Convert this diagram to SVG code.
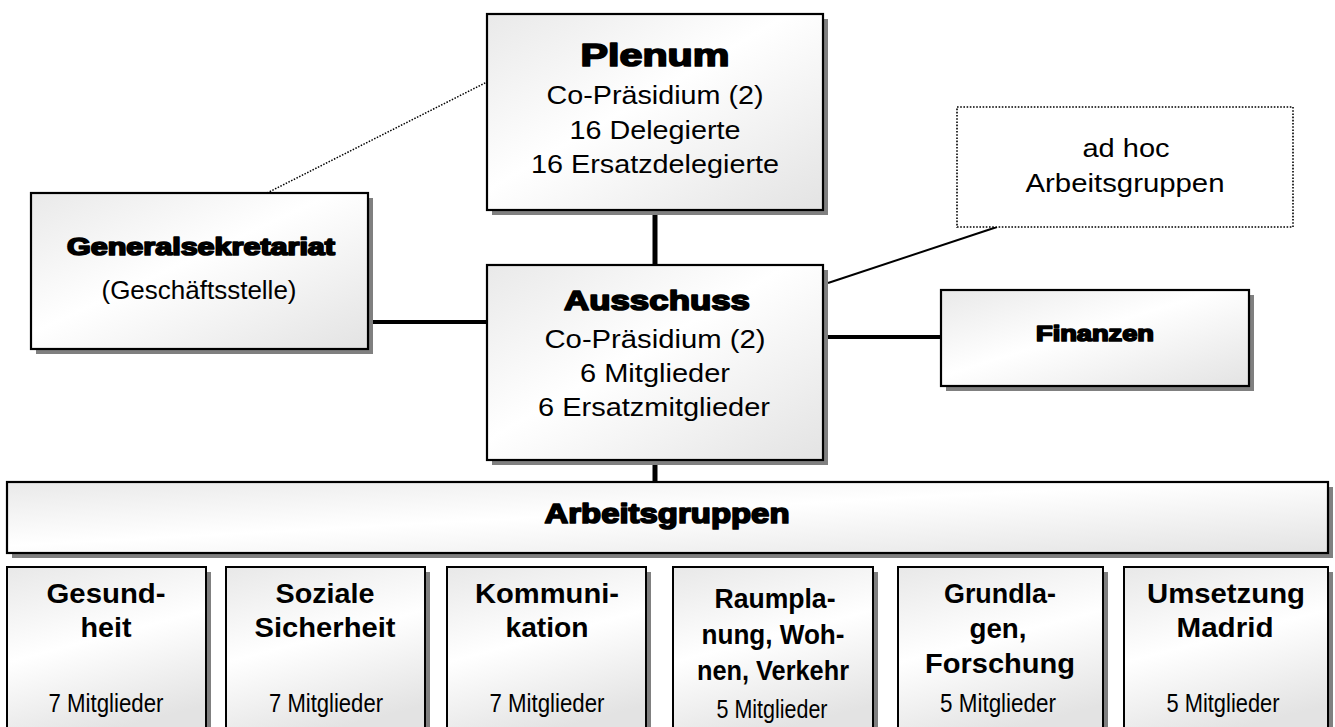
<svg xmlns="http://www.w3.org/2000/svg" width="1335" height="727" viewBox="0 0 1335 727">
<defs>
<linearGradient id="g" x1="0" y1="0" x2="1" y2="1">
<stop offset="0" stop-color="#e9e9e9"/>
<stop offset="0.45" stop-color="#ffffff"/>
<stop offset="1" stop-color="#e3e3e3"/>
</linearGradient>
<linearGradient id="gb" x1="0" y1="0" x2="0.3" y2="1">
<stop offset="0" stop-color="#e8e8e8"/>
<stop offset="0.5" stop-color="#ffffff"/>
<stop offset="1" stop-color="#e3e3e3"/>
</linearGradient>
</defs>
<style>
.sh{fill:#808080;stroke:none}
.bx{fill:url(#g);stroke:#000;stroke-width:2.2}
.bb{fill:url(#gb);stroke:#000;stroke-width:2}
.dot{fill:#fff;stroke:#000;stroke-width:1.6;stroke-dasharray:1.6 1.6}
.con{stroke:#000;fill:none}
text{font-family:"Liberation Sans",Arial,sans-serif;fill:#000;text-anchor:middle}
.hv{font-weight:bold;stroke:#000;stroke-width:1.7;stroke-linejoin:round}
.bd{font-weight:bold}
</style>
<g id="connectors">
<line class="con" x1="655" y1="208" x2="655" y2="266" stroke-width="5"/>
<line class="con" x1="366" y1="322" x2="488" y2="322" stroke-width="4"/>
<line class="con" x1="826" y1="337" x2="942" y2="337" stroke-width="4"/>
<line class="con" x1="655" y1="462" x2="655" y2="483" stroke-width="5"/>
<line class="con" x1="267" y1="193" x2="487" y2="82" stroke-width="1.5" stroke-dasharray="1.5 1.5"/>
<line class="con" x1="828" y1="283" x2="997" y2="227" stroke-width="2"/>
</g>
<g id="plenum">
<rect class="sh" x="492" y="19" width="336" height="196"/>
<rect class="bx" x="487" y="14" width="336" height="196"/>
<text class="hv" x="655" y="66" font-size="32" textLength="149" lengthAdjust="spacingAndGlyphs">Plenum</text>
<text x="655" y="104" font-size="26" textLength="217" lengthAdjust="spacingAndGlyphs">Co-Präsidium (2)</text>
<text x="655" y="139" font-size="26" textLength="171" lengthAdjust="spacingAndGlyphs">16 Delegierte</text>
<text x="655" y="173" font-size="26" textLength="248" lengthAdjust="spacingAndGlyphs">16 Ersatzdelegierte</text>
</g>
<g id="generalsekretariat">
<rect class="sh" x="36" y="198" width="337" height="156"/>
<rect class="bx" x="31" y="193" width="337" height="156"/>
<text class="hv" x="201" y="255" font-size="23" textLength="268" lengthAdjust="spacingAndGlyphs">Generalsekretariat</text>
<text x="199" y="299" font-size="25" textLength="195" lengthAdjust="spacingAndGlyphs">(Geschäftsstelle)</text>
</g>
<g id="adhoc">
<rect class="dot" x="957" y="107" width="336" height="120"/>
<text x="1126" y="157" font-size="25" textLength="87" lengthAdjust="spacingAndGlyphs">ad hoc</text>
<text x="1125" y="192" font-size="25" textLength="199" lengthAdjust="spacingAndGlyphs">Arbeitsgruppen</text>
</g>
<g id="ausschuss">
<rect class="sh" x="492" y="270" width="336" height="195"/>
<rect class="bx" x="487" y="265" width="336" height="195"/>
<text class="hv" x="657" y="310" font-size="28" textLength="186" lengthAdjust="spacingAndGlyphs">Ausschuss</text>
<text x="655" y="348" font-size="26" textLength="221" lengthAdjust="spacingAndGlyphs">Co-Präsidium (2)</text>
<text x="655" y="382" font-size="26" textLength="150" lengthAdjust="spacingAndGlyphs">6 Mitglieder</text>
<text x="654" y="416" font-size="26" textLength="232" lengthAdjust="spacingAndGlyphs">6 Ersatzmitglieder</text>
</g>
<g id="finanzen">
<rect class="sh" x="946" y="295" width="308" height="96"/>
<rect class="bx" x="941" y="290" width="308" height="96"/>
<text class="hv" x="1095" y="341" font-size="22" textLength="118" lengthAdjust="spacingAndGlyphs">Finanzen</text>
</g>
<g id="arbeitsgruppen">
<rect class="sh" x="12" y="487" width="1321" height="71"/>
<rect class="bx" x="7" y="482" width="1321" height="71"/>
<text class="hv" x="667" y="523" font-size="28" textLength="245" lengthAdjust="spacingAndGlyphs">Arbeitsgruppen</text>
</g>
<g id="ag-gesundheit">
<rect class="sh" x="12" y="572" width="199" height="175"/>
<rect class="bb" x="7" y="567" width="199" height="175"/>
<text class="bd" x="106" y="603" font-size="28" textLength="119" lengthAdjust="spacingAndGlyphs">Gesund-</text>
<text class="bd" x="106" y="637" font-size="28" textLength="51" lengthAdjust="spacingAndGlyphs">heit</text>
<text x="106" y="712" font-size="25" textLength="115" lengthAdjust="spacingAndGlyphs">7 Mitglieder</text>
</g>
<g id="ag-soziale">
<rect class="sh" x="231" y="572" width="199" height="175"/>
<rect class="bb" x="226" y="567" width="199" height="175"/>
<text class="bd" x="325" y="603" font-size="28" textLength="99" lengthAdjust="spacingAndGlyphs">Soziale</text>
<text class="bd" x="325" y="637" font-size="28" textLength="141" lengthAdjust="spacingAndGlyphs">Sicherheit</text>
<text x="326" y="712" font-size="25" textLength="114" lengthAdjust="spacingAndGlyphs">7 Mitglieder</text>
</g>
<g id="ag-kommunikation">
<rect class="sh" x="452" y="572" width="199" height="175"/>
<rect class="bb" x="447" y="567" width="199" height="175"/>
<text class="bd" x="547" y="603" font-size="28" textLength="144" lengthAdjust="spacingAndGlyphs">Kommuni-</text>
<text class="bd" x="547" y="637" font-size="28" textLength="83" lengthAdjust="spacingAndGlyphs">kation</text>
<text x="547" y="712" font-size="25" textLength="115" lengthAdjust="spacingAndGlyphs">7 Mitglieder</text>
</g>
<g id="ag-raumplanung">
<rect class="sh" x="678" y="572" width="200" height="175"/>
<rect class="bb" x="673" y="567" width="200" height="175"/>
<text class="bd" x="775" y="608" font-size="27" textLength="121" lengthAdjust="spacingAndGlyphs">Raumpla-</text>
<text class="bd" x="773" y="644" font-size="27" textLength="143" lengthAdjust="spacingAndGlyphs">nung, Woh-</text>
<text class="bd" x="773" y="680" font-size="27" textLength="152" lengthAdjust="spacingAndGlyphs">nen, Verkehr</text>
<text x="772" y="718" font-size="25" textLength="111" lengthAdjust="spacingAndGlyphs">5 Mitglieder</text>
</g>
<g id="ag-grundlagen">
<rect class="sh" x="903" y="572" width="205" height="175"/>
<rect class="bb" x="898" y="567" width="205" height="175"/>
<text class="bd" x="1000" y="603" font-size="28" textLength="112" lengthAdjust="spacingAndGlyphs">Grundla-</text>
<text class="bd" x="998" y="638" font-size="28" textLength="57" lengthAdjust="spacingAndGlyphs">gen,</text>
<text class="bd" x="1000" y="673" font-size="28" textLength="150" lengthAdjust="spacingAndGlyphs">Forschung</text>
<text x="998" y="712" font-size="25" textLength="116" lengthAdjust="spacingAndGlyphs">5 Mitglieder</text>
</g>
<g id="ag-umsetzung">
<rect class="sh" x="1129" y="572" width="204" height="175"/>
<rect class="bb" x="1124" y="567" width="204" height="175"/>
<text class="bd" x="1226" y="603" font-size="28" textLength="158" lengthAdjust="spacingAndGlyphs">Umsetzung</text>
<text class="bd" x="1225" y="637" font-size="28" textLength="97" lengthAdjust="spacingAndGlyphs">Madrid</text>
<text x="1223" y="712" font-size="25" textLength="113" lengthAdjust="spacingAndGlyphs">5 Mitglieder</text>
</g>
</svg>
